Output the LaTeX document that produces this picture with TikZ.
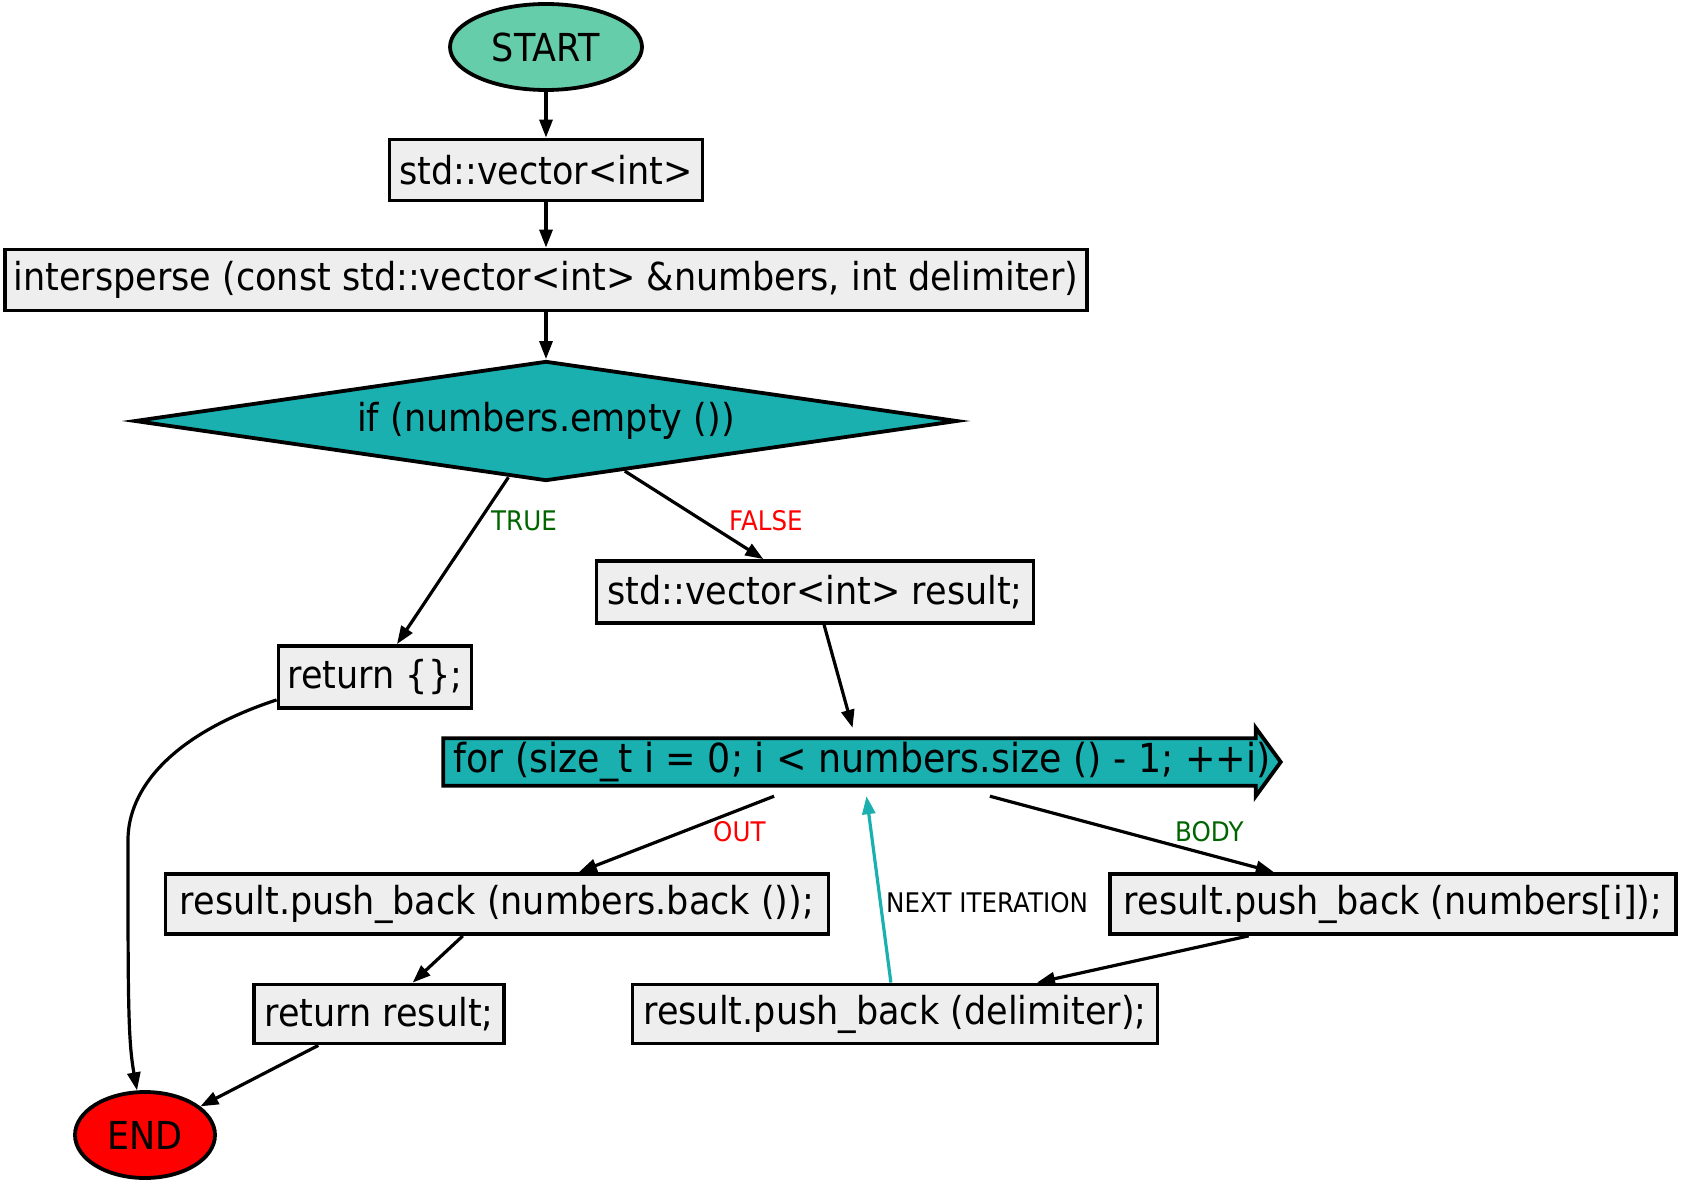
\documentclass[tikz,border=0pt]{standalone}
\usepackage{fontspec}
\setmainfont{DejaVu Sans}[FakeStretch=0.91]
\usetikzlibrary{shapes.geometric,arrows.meta,calc,backgrounds}
\definecolor{boxgray}{RGB}{238,238,238}
\definecolor{startgreen}{RGB}{102,205,170}
\definecolor{loopteal}{RGB}{26,176,176}
\definecolor{labelgreen}{RGB}{0,100,0}
\newcommand{\flowfont}{\fontsize{38.5}{40}\selectfont}
\newcommand{\edgefont}{\fontsize{27}{29}\selectfont}
\tikzset{
  stepbox/.style={draw,line width=3.8pt,fill=boxgray,inner sep=0pt,font=\flowfont},
  terminal/.style={ellipse,draw,line width=3.8pt,inner sep=0pt,font=\flowfont,minimum width=#1},
  edge/.style={line width=3.2pt,-{Triangle[length=18pt,width=13pt]}},
  edgelabel/.style={inner sep=0pt,anchor=west,font=\edgefont}
}
\begin{document}
\begin{tikzpicture}[x=1pt,y=-1pt]
\useasboundingbox (0,0) rectangle (1681,1185);
%=======nodes=============
\node[terminal=192pt,minimum height=86pt,fill=startgreen] (start) at (546,47) {START};
\node[stepbox,minimum width=313pt,minimum height=61pt] (vec) at (546,170) {std::vector<int>};
\node[stepbox,minimum width=1082pt,minimum height=61pt] (inter) at (546,280) {intersperse (const std::vector<int> \&numbers, int delimiter)};
\node[diamond,draw,line width=3.8pt,fill=loopteal,aspect=6.86,inner sep=0pt,minimum width=823pt,minimum height=120pt,font=\flowfont] (ifnode) at (546,421) {if (numbers.empty ())};
\node[stepbox,minimum width=437pt,minimum height=62pt] (res) at (815,592) {std::vector<int> result;};
\node[stepbox,minimum width=193pt,minimum height=62pt] (ret1) at (375,677) {return \{\};};
\node[inner sep=0pt,minimum width=837pt,minimum height=68pt,font=\fontsize{40}{42}\selectfont] (for) at (862,762) {for (size\_t i = 0; i < numbers.size () - 1; ++i)};
\node[stepbox,minimum width=663pt,minimum height=60pt] (pbb) at (497,904) {result.push\_back (numbers.back ());};
\node[stepbox,minimum width=566pt,minimum height=60pt] (pbi) at (1393,904) {result.push\_back (numbers[i]);};
\node[stepbox,minimum width=250pt,minimum height=59pt] (retres) at (379,1014) {return result;};
\node[stepbox,minimum width=525pt,minimum height=59pt] (delim) at (895,1014) {result.push\_back (delimiter);};
\node[terminal=140pt,minimum height=86pt,fill=red] (end) at (145,1135) {END};
%=======loop arrow shape=============
\begin{scope}[on background layer]
\draw[line width=3.8pt,fill=loopteal] ($(for.north west)+(0,10.5)$) -- ($(for.north east)+(-25,10.5)$)
  -- ($(for.north east)+(-25,0)$) -- (for.east) -- ($(for.south east)+(-25,0)$)
  -- ($(for.south east)+(-25,-10.5)$) -- ($(for.south west)+(0,-10.5)$) -- cycle;
\end{scope}
%=======edges=============
\draw[edge] (start) -- (vec);
\draw[edge] (vec) -- (inter);
\draw[edge] (inter) -- (ifnode);
\draw[edge] (ifnode) -- (ret1);
\draw[edge] (ifnode) -- (res);
\draw[edge] (res) -- (for);
\draw[edge] (for) -- (pbb);
\draw[edge] (for) -- (pbi);
\draw[edge] (pbb) -- (retres);
\draw[edge] (pbi) -- (delim);
\draw[edge,draw=loopteal,fill=loopteal] (delim) -- (for);
\draw[edge] (retres) -- (end);
\coordinate (retleft) at ($(ret1.south west)+(0,-10)$);
\draw[edge] (retleft) .. controls (170,735) and (128,790) .. (128,840)
  .. controls (128,1000) and (128,1040) .. (end);
%=======edge labels=============
\node[edgelabel,text=labelgreen] (ltrue) at (491,521) {TRUE};
\node[edgelabel,text=red] (lfalse) at (729,521) {FALSE};
\node[edgelabel,text=red] (lout) at (713,832) {OUT};
\node[edgelabel,text=labelgreen] (lbody) at (1175,832) {BODY};
\node[edgelabel] (lnext) at (886,903) {NEXT ITERATION};
\end{tikzpicture}
\end{document}
